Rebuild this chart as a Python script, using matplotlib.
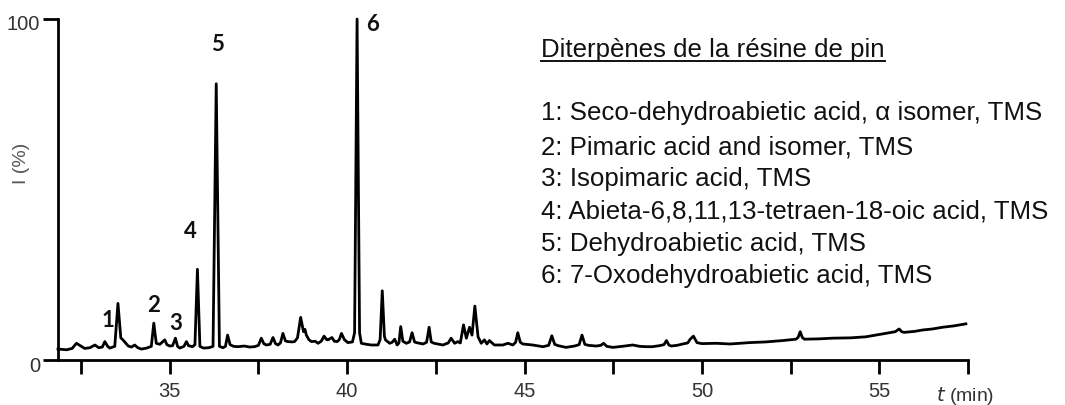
import matplotlib
matplotlib.use("Agg")
import matplotlib.pyplot as plt
import matplotlib.transforms as mtransforms
from matplotlib.lines import Line2D

# ---- data ----
trace_t = [31.85, 32.10, 32.25, 32.37, 32.48, 32.60, 32.75, 32.89, 33.00, 33.10,
           33.17, 33.25, 33.31, 33.45, 33.54, 33.62, 33.68, 33.83, 33.92, 34.01,
           34.10, 34.20, 34.35, 34.48, 34.55, 34.62, 34.72, 34.86, 34.92, 35.00,
           35.08, 35.16, 35.22, 35.28, 35.40, 35.47, 35.53, 35.64, 35.71, 35.78,
           35.85, 35.95, 36.10, 36.22, 36.31, 36.40, 36.50, 36.57, 36.63, 36.70,
           36.80, 36.92, 37.10, 37.25, 37.39, 37.50, 37.58, 37.65, 37.72, 37.83,
           37.91, 37.98, 38.05, 38.12, 38.19, 38.26, 38.33, 38.45, 38.52, 38.60,
           38.69, 38.77, 38.81, 38.85, 38.92, 38.99, 39.10, 39.18, 39.27, 39.35,
           39.42, 39.46, 39.57, 39.64, 39.72, 39.78, 39.84, 39.92, 40.02, 40.15,
           40.21, 40.28, 40.35, 40.40, 40.55, 40.68, 40.87, 40.93, 40.99, 41.05,
           41.08, 41.20, 41.27, 41.34, 41.41, 41.46, 41.51, 41.57, 41.67, 41.76,
           41.83, 41.90, 41.95, 42.14, 42.24, 42.31, 42.37, 42.45, 42.70, 42.85,
           42.93, 43.03, 43.12, 43.19, 43.28, 43.36, 43.45, 43.52, 43.60, 43.69,
           43.78, 43.87, 43.94, 44.01, 44.15, 44.39, 44.53, 44.67, 44.75, 44.81,
           44.88, 44.95, 45.23, 45.52, 45.68, 45.77, 45.85, 45.95, 46.17, 46.41,
           46.54, 46.62, 46.70, 46.80, 47.02, 47.15, 47.23, 47.32, 47.49, 47.75,
           48.05, 48.25, 48.43, 48.60, 48.80, 48.93, 49.00, 49.07, 49.13, 49.30,
           49.46, 49.60, 49.67, 49.76, 49.86, 50.00, 50.40, 50.80, 51.34, 51.80,
           52.28, 52.65, 52.71, 52.77, 52.83, 52.89, 53.30, 53.68, 54.20, 54.62,
           55.00, 55.28, 55.45, 55.56, 55.63, 55.70, 56.00, 56.22, 56.50, 56.78,
           57.10, 57.44]
trace_i = [3.2, 3.0, 3.4, 4.9, 4.2, 3.4, 3.6, 4.4, 3.6, 3.8,
           5.4, 4.0, 3.5, 4.0, 16.6, 6.5, 5.9, 4.1, 3.8, 4.4,
           3.6, 3.2, 3.5, 4.0, 10.8, 4.9, 4.6, 5.9, 4.5, 4.1,
           4.2, 6.4, 4.0, 3.5, 4.0, 5.4, 4.2, 3.9, 4.5, 26.6,
           4.0, 3.5, 3.6, 4.0, 81.0, 4.0, 3.6, 4.0, 7.3, 4.5,
           4.0, 3.9, 4.1, 3.8, 3.9, 4.3, 6.4, 4.8, 4.4, 4.6,
           6.6, 4.8, 4.4, 5.0, 7.8, 5.6, 5.4, 5.3, 5.4, 6.5,
           12.5, 8.3, 9.0, 7.3, 6.0, 5.4, 5.5, 4.9, 5.5, 7.0,
           6.0, 5.9, 6.6, 5.5, 5.4, 6.0, 7.8, 6.0, 5.1, 5.3,
           8.0, 100.0, 8.0, 4.9, 4.6, 4.4, 4.4, 6.0, 20.3, 7.0,
           5.9, 4.9, 5.2, 6.1, 4.4, 5.0, 9.8, 5.5, 4.9, 5.3,
           8.0, 5.3, 5.1, 4.7, 5.2, 9.6, 5.3, 4.9, 4.4, 5.0,
           6.4, 4.9, 5.4, 5.0, 10.3, 6.4, 9.6, 7.3, 15.8, 6.8,
           4.9, 5.9, 4.7, 5.7, 4.4, 4.4, 4.9, 4.4, 5.2, 8.0,
           5.2, 4.7, 4.4, 3.9, 4.3, 7.1, 4.6, 4.2, 3.7, 4.1,
           4.5, 7.3, 4.6, 4.3, 4.1, 4.3, 4.9, 4.0, 3.7, 4.0,
           4.4, 4.0, 3.9, 3.9, 4.2, 4.5, 5.7, 4.4, 4.1, 4.3,
           4.7, 5.0, 6.1, 7.0, 5.1, 4.8, 4.9, 4.7, 5.1, 5.3,
           5.7, 6.1, 6.6, 8.3, 6.6, 6.1, 6.2, 6.4, 6.5, 6.8,
           7.5, 8.0, 8.3, 9.1, 8.3, 8.1, 8.4, 8.8, 9.1, 9.6,
           10.0, 10.6]

peak_labels = ["1", "2", "3", "4", "5", "6"]
label_t = [33.25, 34.53, 35.17, 35.59, 36.35, 40.71]
label_i = [11.7, 16.1, 10.6, 37.8, 92.4, 98.5]

legend_title = "Diterpènes de la résine de pin"
legend_items = [
    "1: Seco-dehydroabietic acid, \u03b1 isomer, TMS",
    "2: Pimaric acid and isomer, TMS",
    "3: Isopimaric acid, TMS",
    "4: Abieta-6,8,11,13-tetraen-18-oic acid, TMS",
    "5: Dehydroabietic acid, TMS",
    "6: 7-Oxodehydroabietic acid, TMS",
]

x_major = [35, 40, 45, 50, 55]
x_minor = [32.5, 37.5, 42.5, 47.5, 52.5, 57.5]
y_ticks = [0, 100]

# ---- figure ----
W, H, DPI = 1065, 405, 100
fig = plt.figure(figsize=(W / DPI, H / DPI), dpi=DPI)
ax = fig.add_axes([58 / W, 1 - 360 / H, (968 - 58) / W, (360 - 19) / H])

ax.plot(trace_t, trace_i, color="black", lw=2.0, solid_joinstyle="round", clip_on=False)
ax.set_xlim(31.85, 57.5)
ax.set_ylim(0, 100)

for s in ("top", "right"):
    ax.spines[s].set_visible(False)
for s in ("left", "bottom"):
    ax.spines[s].set_linewidth(2.0)
    ax.spines[s].set_color("black")

ax.set_xticks(x_major)
ax.set_xticks(x_minor, minor=True)
ax.set_yticks(y_ticks)
ax.tick_params(axis="x", which="both", direction="out", length=10, width=2,
               color="black", pad=6, labelsize=14.5, labelcolor="#333333")
ax.tick_params(axis="y", direction="out", length=11, width=2, color="black",
               pad=2, labelsize=14.5, labelcolor="#333333")
for lab in ax.get_xticklabels() + ax.get_yticklabels():
    lab.set_family("Liberation Sans")
off = mtransforms.ScaledTranslation(0, -4 / DPI, fig.dpi_scale_trans)
for lab in ax.get_yticklabels():
    lab.set_transform(lab.get_transform() + off)

fig.text(22 / W, 1 - 163 / H, "I (%)", rotation=90, ha="center", va="center",
         fontsize=14, color="#555555", family="Liberation Sans")
fig.text(965 / W, 1 - 396 / H, "$\\it{t}$ (min)", ha="center", va="center",
         fontsize=14, color="#333333", family="Liberation Sans")

for lab, t, i in zip(peak_labels, label_t, label_i):
    ax.text(t, i, lab, ha="center", va="center", fontsize=16, fontweight="bold",
            family="Lato", color="#111111")

# legend block
title = fig.text(541 / W, 1 - 50 / H, legend_title, ha="left", va="center",
                 fontsize=18.6, color="#111111", family="Liberation Sans")
line_y = [113, 147, 179, 211, 244, 276]
for txt, yy in zip(legend_items, line_y):
    fig.text(541 / W, 1 - yy / H, txt, ha="left", va="center",
             fontsize=18.6, color="#111111", family="Liberation Sans")

fig.canvas.draw()
bb = title.get_window_extent(renderer=fig.canvas.get_renderer())
uy = bb.y0 + 1
fig.add_artist(Line2D([bb.x0 / W, bb.x1 / W], [uy / H, uy / H],
                      transform=fig.transFigure, color="#111111", lw=1.4))

fig.savefig("out.png", dpi=DPI)
